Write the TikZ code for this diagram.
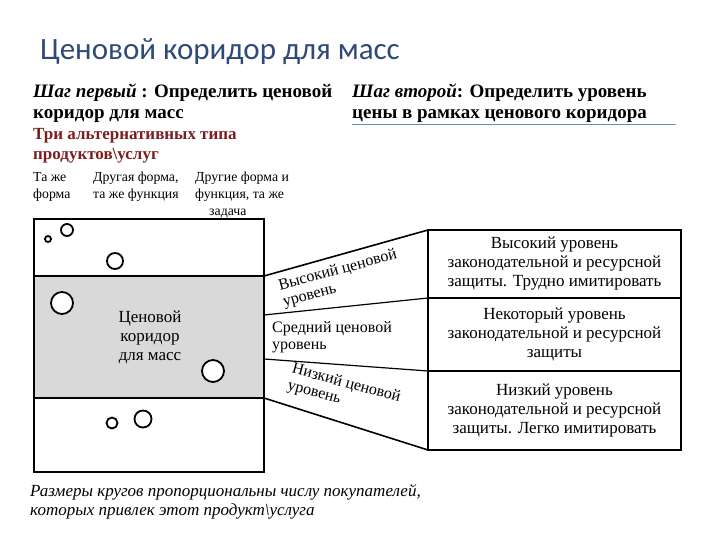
\documentclass[tikz,border=0pt]{standalone}
\usepackage{fontspec}
\setmainfont{Liberation Serif}
\newfontfamily\titlefont{Carlito}
\definecolor{titleblue}{HTML}{2F4A78}
\definecolor{darkred}{HTML}{7A1E1E}
\definecolor{ulblue}{HTML}{6A8CC0}
\definecolor{band}{HTML}{D9D9D9}
\begin{document}
\begin{tikzpicture}[x=1pt,y=-1pt,
  thick line/.style={line width=1.6pt},
  circ/.style={draw,line width=1.8pt,fill=white},
  small/.style={font=\fontsize{13.8}{17}\selectfont,align=left,anchor=north west,inner sep=0pt},
  mid/.style={font=\fontsize{17}{19}\selectfont,align=center,inner sep=0pt},
  lvl/.style={font=\fontsize{16}{17}\selectfont,align=left,inner sep=0pt}]
\fill[white] (0,0) rectangle (720,540);
\node[anchor=west,inner sep=0pt,text=titleblue,font=\titlefont\fontsize{31}{34}\selectfont] (title) at (40,52) {Ценовой коридор для масс};
\node[anchor=north west,inner sep=0pt,align=left,font=\bfseries\fontsize{19}{21}\selectfont] (s1) at (33,84) {\textit{Шаг первый} : Определить ценовой\\коридор для масс};
\node[anchor=north west,inner sep=0pt,align=left,font=\bfseries\fontsize{19}{21}\selectfont] (s2) at (352,84) {\textit{Шаг второй}: Определить уровень\\цены в рамках ценового коридора};
\draw[ulblue,line width=0.6pt] (352,124) coordinate (u1) -- (676,124) coordinate (u2);
\node[anchor=north west,inner sep=0pt,align=left,text=darkred,font=\bfseries\fontsize{17}{20}\selectfont] (types) at (33,128) {Три альтернативных типа\\продуктов\textbackslash услуг};
\node[small] (c1) at (33,172) {Та же\\форма};
\node[small] (c2) at (93,172) {Другая форма,\\та же функция};
\node[small] (c3) at (195,172) {Другие форма и\\функция, та же\\\hspace*{14pt}задача};
% left box
\fill[band] (34,276) rectangle (264,398);
\draw[thick line] (34,219) rectangle (264,472);
\draw[thick line] (34,276) coordinate (bl1) -- (264,276) coordinate (br1);
\draw[thick line] (34,398) coordinate (bl2) -- (264,398) coordinate (br2);
\node[mid] (corr) at (150,337) {Ценовой\\коридор\\для масс};
% circles
\draw[circ] (48,239) circle (3);
\draw[circ] (67,230) circle (6);
\draw[circ] (115,261) circle (8);
\draw[circ] (62,303) circle (11);
\draw[circ] (213,371) circle (11);
\draw[circ] (112,423) circle (5.5);
\draw[circ] (143,419) circle (8.5);
% table
\draw[thick line] (428,230) rectangle (681,450);
\draw[thick line] (428,298) -- (681,298);
\draw[thick line] (428,371) -- (681,371);
\node[mid] (t1) at (554.5,264) {Высокий уровень\\законодательной и ресурсной\\защиты. Трудно имитировать};
\node[mid] (t2) at (554.5,334) {Некоторый уровень\\законодательной и ресурсной\\защиты};
\node[mid] (t3) at (554.5,410) {Низкий уровень\\законодательной и ресурсной\\защиты. Легко имитировать};
% funnel
\draw[thick line] (br1) -- (428,230);
\draw[line width=1.2pt] (264,315) -- (428,298);
\draw[line width=1.2pt] (264,359) -- (428,371);
\draw[thick line] (br2) -- (428,450);
\node[lvl,rotate=15] (h) at (340,279) {Высокий ценовой\\уровень};
\node[lvl,anchor=north west] (m) at (272,321) {Средний ценовой\\уровень};
\node[lvl,rotate=-15] (l) at (344,392) {Низкий ценовой\\уровень};
\node[anchor=north west,inner sep=0pt,align=left,font=\itshape\fontsize{17}{19}\selectfont] (note) at (30,484) {Размеры кругов пропорциональны числу покупателей,\\которых привлек этот продукт\textbackslash услуга};
\end{tikzpicture}
\end{document}
